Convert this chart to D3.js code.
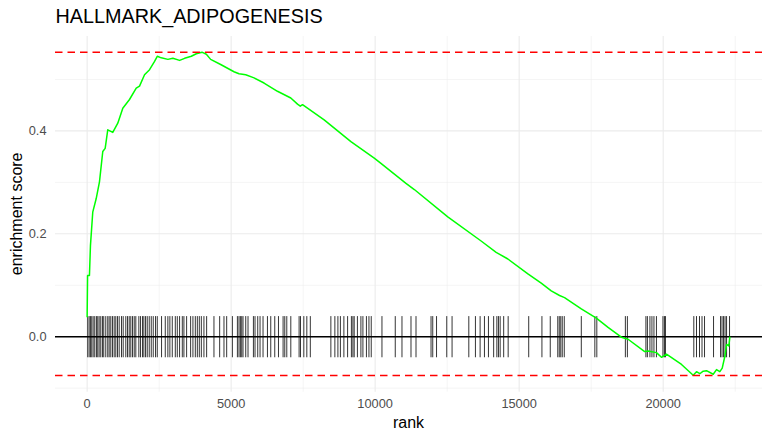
<!DOCTYPE html>
<html>
<head>
<meta charset="utf-8">
<script src="https://cdn.jsdelivr.net/npm/d3@7"></script>
<style>
  html, body { margin: 0; padding: 0; background: #fff; }
  svg { display: block; font-family: "Liberation Sans", Arial, Helvetica, sans-serif; }
</style>
</head>
<body>
<svg id="chart" width="770" height="440"></svg>
<script>
// ---- data ----
const title = "HALLMARK_ADIPOGENESIS";
const xLabel = "rank";
const yLabel = "enrichment score";

const xTicks = [0, 5000, 10000, 15000, 20000];
const yTicks = [0.0, 0.2, 0.4];
const yTickLabels = ["0.0", "0.2", "0.4"];

const esMax = 0.553;
const esMin = -0.0755;
const tickHalfHeight = 0.04;
const nGenes = 22315;

// running enrichment score: [rank, ES]
const esRank = [0, 15, 80, 115, 195, 313, 428, 543, 626, 716, 890, 1064, 1238, 1471, 1704, 1819, 1993, 2167, 2341, 2435,
  2574, 2803, 2977, 3210, 3384, 3617, 3791, 3986, 4139, 4288, 4636, 5099, 5273, 5506, 5795, 6142, 6608, 7071, 7304, 7400,
  7478, 8229, 9158, 9968, 10201, 11070, 11360, 12521, 13679, 14201, 14608, 15303, 15766, 16114, 16402, 16576, 16924, 17157, 17679, 18086,
  18548, 18781, 19358, 19477, 19766, 19940, 20114, 20636, 21042, 21157, 21272, 21389, 21504, 21737, 21852, 21967, 22050, 22141, 22200, 22280, 22315];
const esScore = [0.038, 0.119, 0.119, 0.177, 0.242, 0.268, 0.301, 0.360, 0.366, 0.402, 0.397, 0.415, 0.444, 0.461, 0.483, 0.487, 0.509, 0.519, 0.535, 0.545,
  0.542, 0.539, 0.541, 0.537, 0.541, 0.545, 0.550, 0.553, 0.549, 0.539, 0.529, 0.515, 0.511, 0.509, 0.503, 0.493, 0.477, 0.464, 0.452, 0.448,
  0.451, 0.4215, 0.379, 0.347, 0.337, 0.298, 0.286, 0.233, 0.186, 0.164, 0.151, 0.122, 0.104, 0.089, 0.080, 0.076, 0.063, 0.054, 0.036, 0.018,
  -0.001, -0.005, -0.029, -0.028, -0.031, -0.040, -0.034, -0.054, -0.075, -0.068, -0.072, -0.067, -0.066, -0.073, -0.064, -0.068, -0.061, -0.038, -0.015, -0.018, 0.0];

// ranks of gene-set members (hits)
const hitRanks = [20, 70, 115, 160, 209, 264, 323, 369, 417, 473, 532, 577, 647, 716, 765, 821, 880, 939, 995, 1054,
  1113, 1193, 1252, 1342, 1402, 1461, 1516, 1576, 1635, 1690, 1795, 1854, 1923, 1969, 2028, 2087, 2156, 2226, 2295, 2375,
  2435, 2584, 2713, 2803, 2873, 2956, 3061, 3130, 3210, 3304, 3360, 3454, 3593, 3673, 3756, 3826, 3895, 3965, 4055, 4149,
  4403, 4601, 4751, 4845, 5043, 5217, 5273, 5321, 5367, 5412, 5506, 5586, 5773, 5829, 5923, 6003, 6107, 6260, 6375, 6514,
  6643, 6803, 6862, 6932, 7071, 7359, 7408, 7523, 7627, 7749, 8462, 8601, 8706, 8793, 8914, 9043, 9175, 9227, 9272, 9384,
  9505, 9575, 9697, 9784, 9864, 10236, 10698, 10931, 11244, 11418, 11940, 11999, 12131, 12486, 12670, 13251, 13481, 13644, 13794, 13933,
  14114, 14225, 14281, 14340, 14462, 14618, 15331, 15790, 16079, 16340, 16392, 16444, 16496, 16566, 17157, 17627, 17696, 18687, 18757, 19400,
  19452, 19540, 19609, 19679, 19766, 19992, 20044, 20079, 21063, 21157, 21261, 21348, 21435, 21748, 21991, 22043, 22096, 22148, 22200, 22304];

// ---- layout ----
const W = 770, H = 440;
const panel = { left: 55, right: 762, top: 36, bottom: 391.7 };

const svg = d3.select("#chart");

const xMin = 0, xMax = nGenes;
const xPad = (xMax - xMin) * 0.05;
const x = d3.scaleLinear().domain([xMin - xPad, xMax + xPad]).range([panel.left, panel.right]);

const yLo = Math.min(esMin, d3.min(esScore), -tickHalfHeight);
const yHi = Math.max(esMax, d3.max(esScore));
const yPad = (yHi - yLo) * 0.05;
const y = d3.scaleLinear().domain([yLo - yPad, yHi + yPad]).range([panel.bottom, panel.top]);

const grid = svg.append("g");
// minor gridlines
const xMinor = d3.range(-2500, 25000, 2500).filter(v => !xTicks.includes(v) && x(v) >= panel.left && x(v) <= panel.right);
const yMinor = [-0.1, 0.1, 0.3, 0.5].filter(v => y(v) >= panel.top && y(v) <= panel.bottom);
grid.selectAll(".xminor").data(xMinor).join("line")
  .attr("x1", d => x(d)).attr("x2", d => x(d))
  .attr("y1", panel.top).attr("y2", panel.bottom)
  .attr("stroke", "#EBEBEB").attr("stroke-width", 0.55);
grid.selectAll(".yminor").data(yMinor).join("line")
  .attr("y1", d => y(d)).attr("y2", d => y(d))
  .attr("x1", panel.left).attr("x2", panel.right)
  .attr("stroke", "#EBEBEB").attr("stroke-width", 0.55);
// major gridlines
grid.selectAll(".xmajor").data(xTicks).join("line")
  .attr("x1", d => x(d)).attr("x2", d => x(d))
  .attr("y1", panel.top).attr("y2", panel.bottom)
  .attr("stroke", "#EBEBEB").attr("stroke-width", 1.1);
grid.selectAll(".ymajor").data(yTicks).join("line")
  .attr("y1", d => y(d)).attr("y2", d => y(d))
  .attr("x1", panel.left).attr("x2", panel.right)
  .attr("stroke", "#EBEBEB").attr("stroke-width", 1.1);

// gene-set hit ticks
svg.append("g").selectAll("line").data(hitRanks).join("line")
  .attr("x1", d => x(d)).attr("x2", d => x(d))
  .attr("y1", y(tickHalfHeight)).attr("y2", y(-tickHalfHeight))
  .attr("stroke", "#000").attr("stroke-width", 0.8);

// zero line
svg.append("line")
  .attr("x1", panel.left).attr("x2", panel.right)
  .attr("y1", y(0)).attr("y2", y(0))
  .attr("stroke", "#000").attr("stroke-width", 1.6);

// ES curve
const pts = esRank.map((r, i) => [r, esScore[i]]);
svg.append("path")
  .datum(pts)
  .attr("fill", "none")
  .attr("stroke", "#00FF00")
  .attr("stroke-width", 1.5)
  .attr("stroke-linejoin", "round")
  .attr("d", d3.line().x(d => x(d[0])).y(d => y(d[1])));

// max / min dashed lines
svg.append("g").selectAll("line").data([esMax, esMin]).join("line")
  .attr("x1", panel.left).attr("x2", panel.right)
  .attr("y1", d => y(d)).attr("y2", d => y(d))
  .attr("stroke", "#FF0000").attr("stroke-width", 1.5)
  .attr("stroke-dasharray", "7.5,5");

// axis tick labels
svg.append("g").selectAll("text").data(xTicks).join("text")
  .attr("x", d => x(d)).attr("y", 408.3)
  .attr("text-anchor", "middle")
  .attr("font-size", "12.8px").attr("fill", "#4D4D4D")
  .text(d => d);
svg.append("g").selectAll("text").data(yTicks).join("text")
  .attr("x", 46.5).attr("y", d => y(d))
  .attr("dy", "0.36em")
  .attr("text-anchor", "end")
  .attr("font-size", "12.8px").attr("fill", "#4D4D4D")
  .text((d, i) => yTickLabels[i]);

// axis titles
svg.append("text")
  .attr("x", (panel.left + panel.right) / 2).attr("y", 427.5)
  .attr("text-anchor", "middle")
  .attr("font-size", "16px").attr("fill", "#000")
  .text(xLabel);
svg.append("text")
  .attr("transform", `translate(21.5, ${(panel.top + panel.bottom) / 2}) rotate(-90)`)
  .attr("text-anchor", "middle")
  .attr("font-size", "16px").attr("fill", "#000")
  .text(yLabel);

// title
svg.append("text")
  .attr("x", 55.5).attr("y", 22.7)
  .attr("font-size", "19.8px").attr("fill", "#000")
  .text(title);
</script>
</body>
</html>
